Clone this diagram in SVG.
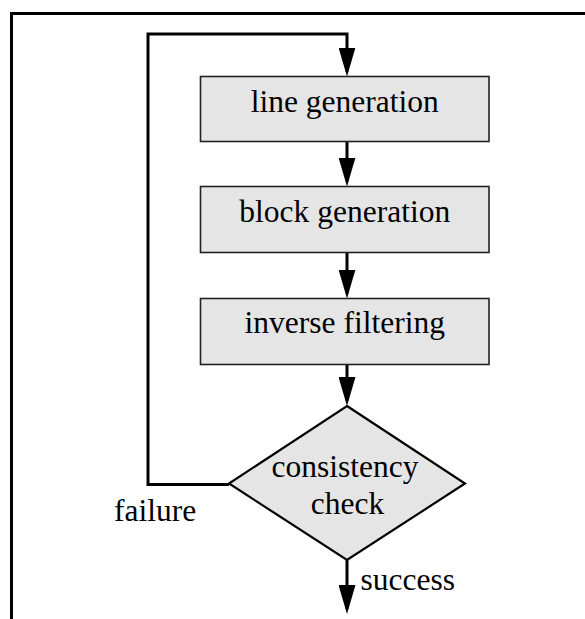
<svg xmlns="http://www.w3.org/2000/svg" width="585" height="619" viewBox="0 0 585 619">
<style>
.box{fill:#e5e5e5;stroke:#222;stroke-width:1.6}
.dia{fill:#e5e5e5;stroke:#000;stroke-width:2.2}
.con{fill:none;stroke:#000;stroke-width:3}
.t{font-family:"Liberation Serif","Times New Roman",serif;font-size:31.5px;fill:#000}
.c{text-anchor:middle}
</style>
<defs>
<marker id="ah" markerUnits="userSpaceOnUse" viewBox="0 0 29 17" markerWidth="29" markerHeight="17" refX="24" refY="8.5" orient="auto">
<path d="M0,0 L29,8.5 L0,17 Z" fill="#000"/>
</marker>
</defs>
<rect x="0" y="0" width="585" height="619" fill="#fff"/>
<path d="M11.5,630 V13.5 H595" fill="none" stroke="#000" stroke-width="3"/>
<g id="connectors">
<path class="con" d="M229,484.5 H148 V34 H347 V71.5" marker-end="url(#ah)"/>
<path class="con" d="M347,141.5 V181.5" marker-end="url(#ah)"/>
<path class="con" d="M347,252.5 V293.5" marker-end="url(#ah)"/>
<path class="con" d="M347,364.5 V401" marker-end="url(#ah)"/>
<path class="con" d="M347,560 V609" marker-end="url(#ah)"/>
</g>
<g id="line-generation">
<rect class="box" x="200.5" y="76.5" width="288.5" height="65"/>
<text class="t c" x="344.75" y="111.7">line generation</text>
</g>
<g id="block-generation">
<rect class="box" x="200.5" y="186.5" width="288.5" height="66"/>
<text class="t c" x="344.75" y="221.7">block generation</text>
</g>
<g id="inverse-filtering">
<rect class="box" x="200.5" y="298.5" width="288.5" height="66"/>
<text class="t c" x="344.75" y="333.3">inverse filtering</text>
</g>
<g id="consistency-check">
<polygon class="dia" points="347,406 465,483.5 347,560 229,483.5"/>
<text class="t c" x="345" y="476.7">consistency</text>
<text class="t c" x="347.5" y="514.3">check</text>
</g>
<g id="labels">
<text class="t" x="114" y="520.7">failure</text>
<text class="t" x="360.5" y="590">success</text>
</g>
</svg>
